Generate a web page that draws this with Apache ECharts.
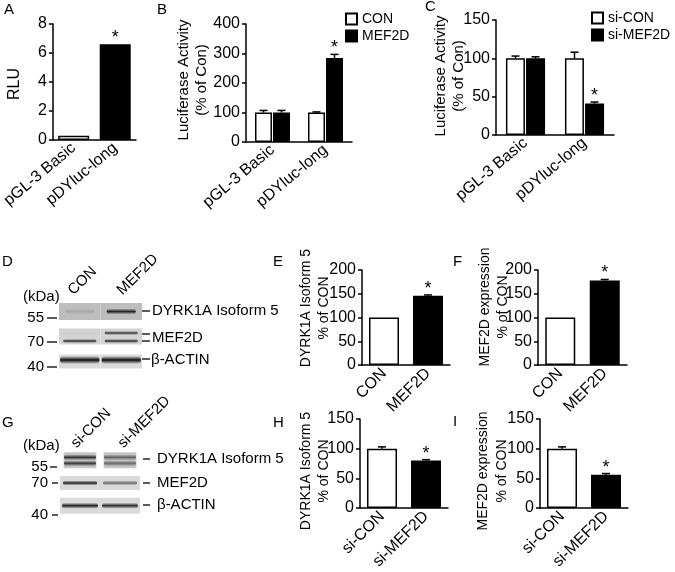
<!DOCTYPE html>
<html>
<head>
<meta charset="utf-8">
<script src="https://cdn.jsdelivr.net/npm/echarts@6.0.0/dist/echarts.min.js"></script>
<style>
html,body{margin:0;padding:0;background:#fff}
#fig{width:675px;height:572px}
</style>
</head>
<body>
<div id="fig"></div>
<script>
// A - RLU
var catsA = ['pGL-3 Basic', 'pDYluc-long'];
var rluA = [0.3, 6.6];
var rluErrA = [0, 0];
var sigA = [0, 1];

// B - MEF2D overexpression, luciferase (% of Con)
var catsB = ['pGL-3 Basic', 'pDYluc-long'];
var conB = [100, 100];
var conErrB = [7, 2];
var mefB = [100, 285];
var mefErrB = [7, 12];
var sigMefB = [0, 1];

// C - si-MEF2D, luciferase (% of Con)
var catsC = ['pGL-3 Basic', 'pDYluc-long'];
var siConC = [100, 100];
var siConErrC = [3, 8];
var siMefC = [100, 41];
var siMefErrC = [2, 2];
var sigSiMefC = [0, 1];

// E / F - quantification of blot D
var catsEF = ['CON', 'MEF2D'];
var dyrkE = [100, 146];
var dyrkErrE = [0, 1.5];
var mefF = [100, 178];
var mefErrF = [0, 2];
var sigEF = [0, 1];

// H / I - quantification of blot G
var catsHI = ['si-CON', 'si-MEF2D'];
var dyrkH = [100, 80];
var dyrkErrH = [3, 1.5];
var mefI = [100, 56];
var mefErrI = [3, 2];
var sigHI = [0, 1];

// blots D and G (band density 0..1 per lane)
var lanesD = ['CON', 'MEF2D'];
var rowsD = ['DYRK1A Isoform 5', 'MEF2D', 'β-ACTIN'];
var kdaD = ['55', '70', '40'];
var dyrkBandD = [0.12, 0.85];
var mefUpperD = [0.05, 0.8];
var mefLowerD = [0.85, 0.85];
var actinD = [1, 1];

var lanesG = ['si-CON', 'si-MEF2D'];
var rowsG = ['DYRK1A Isoform 5', 'MEF2D', 'β-ACTIN'];
var kdaG = ['55', '70', '40'];
var dyrkUpperG = [0.8, 0.55];
var dyrkLowerG = [0.75, 0.5];
var mefBandG = [0.9, 0.55];
var actinG = [0.9, 0.85];

var FF = '"Liberation Sans", Arial, Helvetica, sans-serif';

function valAxis(gi, max, step) {
  return {type: 'value', gridIndex: gi, min: 0, max: max, interval: step,
    axisLine: {show: true, lineStyle: {color: '#000', width: 1.5}},
    axisTick: {show: true, length: 4, lineStyle: {color: '#000', width: 1.5}},
    axisLabel: {color: '#000', fontSize: 16, fontFamily: FF, margin: 6},
    splitLine: {show: false}};
}
function catAxis(gi, cats, rot) {
  return {type: 'category', gridIndex: gi, data: cats,
    axisLine: {show: true, lineStyle: {color: '#000', width: 1.5}},
    axisTick: {show: false},
    axisLabel: {color: '#000', fontSize: 16, fontFamily: FF, rotate: rot, margin: 6, interval: 0}};
}
function hidden(gi, cats, inv) {
  return {type: 'category', gridIndex: gi, data: cats, show: false, inverse: !!inv};
}

// white / black pair in one series
function pairBars(gi, name, vals, w) {
  return {type: 'bar', name: name, xAxisIndex: gi, yAxisIndex: gi, barWidth: w, data: vals,
    itemStyle: {color: function (p) { return p.dataIndex ? '#000' : '#fff'; }, borderColor: '#000', borderWidth: 1.5}};
}
function groupBars(gi, name, vals, fill, w) {
  return {type: 'bar', name: name, xAxisIndex: gi, yAxisIndex: gi, barWidth: w, barGap: '6%', data: vals,
    itemStyle: {color: fill, borderColor: '#000', borderWidth: 1.5}};
}
// upper error bar + significance star
function errBars(gi, vals, errs, sig, dx) {
  return {type: 'custom', xAxisIndex: gi, yAxisIndex: gi, z: 4, silent: true,
    data: vals.map(function (v, i) { return [i, v, errs[i], sig[i]]; }),
    renderItem: function (params, api) {
      var c = api.value(0), v = api.value(1), e = api.value(2), s = api.value(3);
      var p0 = api.coord([c, v]), p1 = api.coord([c, v + e]);
      var x = p0[0] + dx;
      var ch = [];
      if (e > 0) {
        ch.push({type: 'line', shape: {x1: x, y1: p0[1], x2: x, y2: p1[1]}, style: {stroke: '#000', lineWidth: 1.5}});
        ch.push({type: 'line', shape: {x1: x - 4, y1: p1[1], x2: x + 4, y2: p1[1]}, style: {stroke: '#000', lineWidth: 1.5}});
      }
      if (s) {
        ch.push({type: 'text', style: {text: '*', x: x, y: p1[1] + 3, fill: '#000', font: '18px ' + FF,
          align: 'center', textAlign: 'center', verticalAlign: 'bottom', textVerticalAlign: 'bottom'}});
      }
      return {type: 'group', children: ch};
    }};
}

// blot backgrounds
function blotBoxes(gi, nRows, shades, heights, widths) {
  var d = [];
  for (var r = 0; r < nRows; r++) { d.push([0, r]); d.push([1, r]); }
  return {type: 'custom', xAxisIndex: gi, yAxisIndex: gi, silent: true, z: 1, data: d,
    renderItem: function (params, api) {
      var c = api.coord([api.value(0), api.value(1)]);
      var s = api.size([1, 1]);
      var r = api.value(1);
      var w = s[0] * widths[r], h = heights[r];
      return {type: 'rect', shape: {x: c[0] - w / 2, y: c[1] - h / 2, width: w, height: h}, style: {fill: shades[r]}};
    }};
}
// blot band
function blotBand(gi, row, dens, dy, th, wf) {
  return {type: 'custom', xAxisIndex: gi, yAxisIndex: gi, silent: true, z: 2,
    data: dens.map(function (d, l) { return [l, row, d]; }),
    renderItem: function (params, api) {
      var c = api.coord([api.value(0), api.value(1)]);
      var s = api.size([1, 1]);
      var a = api.value(2);
      var w = s[0] * wf;
      var col = 'rgba(12,12,12,' + a + ')';
      return {type: 'rect', shape: {x: c[0] - w / 2, y: c[1] + dy - th / 2, width: w, height: th, r: th / 2},
        style: {fill: new echarts.graphic.LinearGradient(0, 0, 0, 1, [
          {offset: 0, color: 'rgba(12,12,12,0)'},
          {offset: 0.5, color: col},
          {offset: 1, color: 'rgba(12,12,12,0)'}])}};
    }};
}

function txt(s, x, y, size, align, vAlign, rot) {
  return {type: 'text', x: x, y: y, rotation: rot || 0, silent: true,
    style: {text: s, x: 0, y: 0, fill: '#000', font: size + 'px ' + FF,
      align: align || 'left', textAlign: align || 'left',
      verticalAlign: vAlign || 'middle', textVerticalAlign: vAlign || 'middle'}};
}
function seg(x1, y1, x2, y2) {
  return {type: 'line', silent: true, shape: {x1: x1, y1: y1, x2: x2, y2: y2}, style: {stroke: '#000', lineWidth: 1.3}};
}

var R90 = Math.PI / 2, R45 = Math.PI / 4;

var graphics = [
  // panel letters
  txt('A', 4, 10, 15), txt('B', 157, 10, 15), txt('C', 425, 7, 15),
  txt('D', 2, 262, 15), txt('E', 273, 262, 15), txt('F', 453, 262, 15),
  txt('G', 2, 423, 15), txt('H', 273, 423, 15), txt('I', 453, 422, 15),
  // y titles
  txt('RLU', 15, 84, 16, 'center', 'middle', R90),
  txt('Luciferase Activity', 184, 80, 15, 'center', 'middle', R90),
  txt('(% of Con)', 202, 80, 15, 'center', 'middle', R90),
  txt('Luciferase Activity', 441, 76, 15, 'center', 'middle', R90),
  txt('(% of Con)', 459, 76, 15, 'center', 'middle', R90),
  txt('DYRK1A Isoform 5', 306, 308, 14, 'center', 'middle', R90),
  txt('% of CON', 324, 308, 14, 'center', 'middle', R90),
  txt('MEF2D expression', 485, 307, 14, 'center', 'middle', R90),
  txt('% of CON', 503, 307, 14, 'center', 'middle', R90),
  txt('DYRK1A Isoform 5', 306, 471, 14, 'center', 'middle', R90),
  txt('% of CON', 324, 471, 14, 'center', 'middle', R90),
  txt('MEF2D expression', 483, 471, 14, 'center', 'middle', R90),
  txt('% of CON', 502, 471, 14, 'center', 'middle', R90),

  // blot D labels
  txt(lanesD[0], 76, 298, 15, 'left', 'bottom', R45),
  txt(lanesD[1], 125, 298, 15, 'left', 'bottom', R45),
  txt('(kDa)', 23, 297, 15),
  txt(kdaD[0], 44, 318, 15, 'right'), seg(47, 318, 57, 318),
  txt(kdaD[1], 44, 342, 15, 'right'), seg(47, 342, 57, 342),
  txt(kdaD[2], 44, 367, 15, 'right'), seg(47, 367, 57, 367),
  seg(142, 311, 150, 311), txt(rowsD[0], 152, 311, 15),
  seg(142, 334, 150, 334), seg(142, 341, 150, 341), txt(rowsD[1], 152, 338, 15),
  seg(142, 359, 150, 359), txt(rowsD[2], 151, 360, 15),

  // blot G labels
  txt(lanesG[0], 79, 451, 15, 'left', 'bottom', R45),
  txt(lanesG[1], 126, 451, 15, 'left', 'bottom', R45),
  txt('(kDa)', 23, 446, 15),
  txt(kdaG[0], 48, 467, 15, 'right'), seg(50, 467, 57, 467),
  txt(kdaG[1], 48, 483, 15, 'right'), seg(52, 483, 58, 483),
  txt(kdaG[2], 48, 515, 15, 'right'), seg(52, 515, 58, 515),
  seg(143, 459, 150, 459), txt(rowsG[0], 157, 459, 15),
  seg(143, 483, 150, 483), txt(rowsG[1], 157, 483, 15),
  seg(143, 505, 150, 505), txt(rowsG[2], 157, 505, 15)
];

var legendBase = {orient: 'vertical', itemWidth: 11, itemHeight: 11, itemGap: 3, icon: 'rect',
  selectedMode: false, textStyle: {fontSize: 14, fontFamily: FF, color: '#000'}};

var option = {
  animation: false,
  backgroundColor: '#fff',
  legend: [
    Object.assign({data: ['CON', 'MEF2D'], left: 340, top: 7}, legendBase),
    Object.assign({data: ['si-CON', 'si-MEF2D'], left: 586, top: 6}, legendBase)
  ],
  grid: [
    {left: 48, top: 24, width: 88, height: 116},   // A
    {left: 246, top: 24, width: 106, height: 118}, // B
    {left: 496, top: 20, width: 118, height: 115}, // C
    {left: 362, top: 270, width: 88, height: 95},  // E
    {left: 538, top: 270, width: 89, height: 95},  // F
    {left: 360, top: 419, width: 88, height: 95},  // H
    {left: 540, top: 419, width: 88, height: 95},  // I
    {left: 59, top: 299, width: 83, height: 75},   // D blot
    {left: 60, top: 449, width: 80, height: 68}    // G blot
  ],
  xAxis: [
    catAxis(0, catsA, 40), catAxis(1, catsB, 40), catAxis(2, catsC, 40),
    catAxis(3, catsEF, 45), catAxis(4, catsEF, 45), catAxis(5, catsHI, 45), catAxis(6, catsHI, 45),
    hidden(7, lanesD), hidden(8, lanesG)
  ],
  yAxis: [
    valAxis(0, 8, 2), valAxis(1, 400, 100), valAxis(2, 150, 50),
    valAxis(3, 200, 50), valAxis(4, 200, 50), valAxis(5, 150, 50), valAxis(6, 150, 50),
    hidden(7, rowsD, true), hidden(8, rowsG, true)
  ],
  series: [
    pairBars(0, 'A', rluA, 31),
    errBars(0, rluA, rluErrA, sigA, 0),

    groupBars(1, 'CON', conB, '#fff', 17),
    groupBars(1, 'MEF2D', mefB, '#000', 17),
    errBars(1, conB, conErrB, [0, 0], -9),
    errBars(1, mefB, mefErrB, sigMefB, 9),

    groupBars(2, 'si-CON', siConC, '#fff', 19),
    groupBars(2, 'si-MEF2D', siMefC, '#000', 19),
    errBars(2, siConC, siConErrC, [0, 0], -10),
    errBars(2, siMefC, siMefErrC, sigSiMefC, 10),

    pairBars(3, 'E', dyrkE, 30), errBars(3, dyrkE, dyrkErrE, sigEF, 0),
    pairBars(4, 'F', mefF, 30), errBars(4, mefF, mefErrF, sigEF, 0),
    pairBars(5, 'H', dyrkH, 30), errBars(5, dyrkH, dyrkErrH, sigHI, 0),
    pairBars(6, 'I', mefI, 30), errBars(6, mefI, mefErrI, sigHI, 0),

    blotBoxes(7, 3, ['#bdbdbd', '#d3d3d3', '#dadada'], [17, 16, 14], [1, 1, 1]),
    blotBand(7, 0, dyrkBandD, 0, 6, 0.7),
    blotBand(7, 1, mefUpperD, -3.5, 4, 0.8),
    blotBand(7, 1, mefLowerD, 4.5, 4, 0.8),
    blotBand(7, 2, actinD, -1.5, 8, 0.95),

    blotBoxes(8, 3, ['#c6c6c6', '#d9d9d9', '#dadada'], [16, 14, 16], [0.82, 1, 1]),
    blotBand(8, 0, dyrkUpperG, -3, 6, 0.8),
    blotBand(8, 0, dyrkLowerG, 3, 6, 0.8),
    blotBand(8, 1, mefBandG, 0, 5, 0.85),
    blotBand(8, 2, actinG, 0, 6, 0.9)
  ],
  graphic: graphics
};

var chart = echarts.init(document.getElementById('fig'));
chart.setOption(option);
</script>
</body>
</html>
